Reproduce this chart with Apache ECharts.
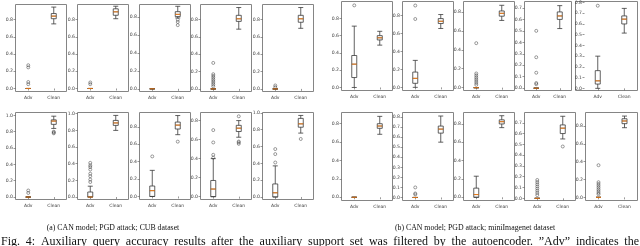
<!DOCTYPE html>
<html><head><meta charset="utf-8">
<script src="https://cdn.jsdelivr.net/npm/echarts@6/dist/echarts.min.js"></script>
<style>html,body{margin:0;padding:0;background:#fff}#c{width:640px;height:246px}</style>
</head><body><div id="c"></div>
<script>
// ---------------- DATA ----------------
const categories = ['Adv', 'Clean'];

// (a) CUB dataset: 10 panels, top row then bottom row. Box = [low whisker, Q1, median, Q3, high whisker]
const cubAdvBox = [
  [0,0,0,0,0], [0,0,0,0,0], [0,0,0,0,0], [0,0,0,0,0], [0,0,0,0,0],
  [0,0,0,0,0], [0,0,0,0.06,0.13], [0,0,0.067,0.12,0.30], [0,0,0.08,0.17,0.40], [0,0,0.05,0.155,0.37]
];
const cubAdvOutliers = [
  [0.27,0.245,0.075,0.05],
  [0.07,0.05],
  [],
  [0.30,0.17,0.15,0.13,0.11,0.09,0.07,0.05,0.03],
  [0.04,0.02],
  [0.08,0.05],
  [0.41,0.38,0.36,0.33,0.28,0.25,0.21,0.18],
  [0.46],
  [0.70,0.57,0.44,0.41],
  [0.57,0.51,0.41]
];
const cubCleanBox = [
  [0.75,0.81,0.84,0.87,0.945],
  [0.81,0.85,0.89,0.925,0.955],
  [0.79,0.805,0.83,0.86,0.92],
  [0.69,0.78,0.81,0.85,0.94],
  [0.70,0.77,0.81,0.85,0.94],
  [0.84,0.89,0.93,0.945,0.99],
  [0.80,0.86,0.89,0.92,0.98],
  [0.71,0.775,0.82,0.855,0.93],
  [0.625,0.685,0.72,0.75,0.80],
  [0.76,0.83,0.87,0.935,0.97]
];
const cubCleanOutliers = [
  [], [], [0.77,0.745,0.71], [], [],
  [0.80,0.79,0.78], [], [0.63], [0.845,0.58,0.57,0.555], [0.69]
];
const cubYRange = [
  [-0.035,0.975], [-0.035,0.975], [-0.03,0.94], [-0.03,0.975], [-0.03,0.975],
  [-0.03,1.035], [-0.03,1.015], [-0.035,0.965], [-0.03,0.885], [-0.03,1.005]
];
const cubYTicks = [
  [0,0.2,0.4,0.6,0.8], [0,0.2,0.4,0.6,0.8], [0,0.2,0.4,0.6,0.8], [0,0.2,0.4,0.6,0.8], [0,0.2,0.4,0.6,0.8],
  [0,0.2,0.4,0.6,0.8,1.0], [0,0.2,0.4,0.6,0.8,1.0], [0,0.2,0.4,0.6,0.8], [0,0.2,0.4,0.6,0.8], [0,0.2,0.4,0.6,0.8,1.0]
];

// (b) miniImagenet dataset
const miniAdvBox = [
  [0,0.115,0.27,0.37,0.71],
  [0,0.045,0.10,0.17,0.30],
  [0,0,0,0,0],
  [0,0,0,0,0],
  [0,0.04,0.07,0.165,0.30],
  [0,0,0,0,0],
  [0,0,0,0,0],
  [0,0,0.03,0.10,0.23],
  [0,0,0,0,0],
  [0,0,0,0,0]
];
const miniAdvOutliers = [
  [0.95],
  [0.91,0.76],
  [0.47,0.15,0.13,0.11,0.09,0.07,0.05,0.03],
  [0.50,0.27,0.135,0.045,0.035],
  [0.77],
  [],
  [0.10,0.04,0.03],
  [],
  [0.17,0.15,0.13,0.11,0.09,0.07,0.05,0.03],
  [0.36,0.17,0.15,0.13,0.11,0.09,0.07,0.05,0.035]
];
const miniCleanBox = [
  [0.49,0.55,0.575,0.60,0.65],
  [0.655,0.71,0.735,0.765,0.81],
  [0.71,0.755,0.785,0.81,0.87],
  [0.52,0.60,0.63,0.665,0.72],
  [0.515,0.60,0.645,0.675,0.745],
  [0.685,0.75,0.775,0.80,0.88],
  [0.55,0.64,0.68,0.71,0.81],
  [0.76,0.80,0.825,0.845,0.89],
  [0.55,0.60,0.65,0.68,0.76],
  [0.78,0.825,0.855,0.88,0.91]
];
const miniCleanOutliers = [[],[],[],[],[],[],[],[],[0.48],[]];
const miniYRange = [
  [-0.035,0.995], [-0.035,0.955], [-0.03,0.91], [-0.02,0.756], [-0.02,0.805],
  [-0.035,0.922], [-0.03,0.845], [-0.035,0.925], [-0.02,0.795], [-0.035,0.95]
];
const tenth8 = [0,0.1,0.2,0.3,0.4,0.5,0.6,0.7,0.8];
const tenth7 = [0,0.1,0.2,0.3,0.4,0.5,0.6,0.7];
const miniYTicks = [
  [0,0.2,0.4,0.6,0.8], [0,0.2,0.4,0.6,0.8], [0,0.2,0.4,0.6,0.8], tenth7, tenth8,
  [0,0.2,0.4,0.6,0.8], tenth8, [0,0.2,0.4,0.6,0.8], tenth7, [0,0.2,0.4,0.6,0.8]
];

const captionA = '(a) CAN model; PGD attack; CUB dataset';
const captionB = '(b) CAN model; PGD attack; miniImagenet dataset';
const figCaption = 'Fig. 4: Auxiliary query accuracy results after the auxiliary support set was filtered by the autoencoder. \u201DAdv\u201D indicates the';

// ---------------- LAYOUT ----------------
function rowLayout(lefts, widths, top, height) {
  return lefts.map((l, i) => [l, top, widths[i], height]);
}
const cubLayout = rowLayout([15.5,77.5,139.5,200.5,262.5],[51,51,51,51,51],4.5,87)
  .concat(rowLayout([15.5,77.5,139.5,200.5,262.5],[51,51,51,51,51],112.5,87));
const miniLayout = rowLayout([341.5,402.5,463.5,524.5,584.5],[51,51,51,47,53],1.5,89)
  .concat(rowLayout([341.5,402.5,463.5,524.5,585.5],[51,51,51,51,52],112.5,88));

const FRAME = '#858585', INK = '#3a3a3a', TXT = '#444';
const groups = [
  {advBox: cubAdvBox, advOut: cubAdvOutliers, cleanBox: cubCleanBox, cleanOut: cubCleanOutliers, ranges: cubYRange, ticks: cubYTicks, layout: cubLayout},
  {advBox: miniAdvBox, advOut: miniAdvOutliers, cleanBox: miniCleanBox, cleanOut: miniCleanOutliers, ranges: miniYRange, ticks: miniYTicks, layout: miniLayout}
];

const grid = [], xAxis = [], yAxis = [], series = [], graphic = [];
let k = 0;
groups.forEach((g, gi) => {
  for (let i = 0; i < 10; i++) {
    const L = g.layout[i];
    const special = (gi === 1 && i === 4); // wider frame containing labels
    grid.push({left: L[0], top: L[1], width: L[2], height: L[3], show: true,
      borderColor: FRAME, borderWidth: special ? 0 : 1, backgroundColor: 'transparent'});
    if (special) {
      graphic.push({type: 'rect', shape: {x: 575.5, y: L[1], width: L[0] + L[2] - 575.5, height: L[3]},
        style: {fill: 'none', stroke: FRAME, lineWidth: 1}, silent: true});
    }
    xAxis.push({type: 'category', gridIndex: k, data: categories, boundaryGap: true,
      axisLine: {show: false},
      axisTick: {show: true, alignWithLabel: true, length: 2, lineStyle: {color: '#555', width: 0.6}},
      axisLabel: {fontSize: 4.5, color: TXT, margin: 3.5, fontFamily: 'DejaVu Sans'},
      splitLine: {show: false}});
    yAxis.push({type: 'value', gridIndex: k, min: g.ranges[i][0], max: g.ranges[i][1],
      axisLine: {show: false}, splitLine: {show: false},
      axisTick: {show: true, length: 2, customValues: g.ticks[i], lineStyle: {color: '#555', width: 0.6}},
      axisLabel: {customValues: g.ticks[i], formatter: v => Number(v).toFixed(1), fontSize: 4.6,
        color: TXT, margin: 2.5, fontFamily: 'DejaVu Sans'}});
    series.push({type: 'boxplot', xAxisIndex: k, yAxisIndex: k, boxWidth: [5, 5], silent: true,
      itemStyle: {color: '#fff', borderColor: INK, borderWidth: 0.8},
      data: [g.advBox[i], g.cleanBox[i]], z: 2});
    series.push({type: 'scatter', xAxisIndex: k, yAxisIndex: k, symbol: 'rect', symbolSize: [5, 1.1], silent: true,
      itemStyle: {color: '#ff7f0e'}, data: [[0, g.advBox[i][2]], [1, g.cleanBox[i][2]]], z: 5});
    const out = g.advOut[i].map(v => [0, v]).concat(g.cleanOut[i].map(v => [1, v]));
    series.push({type: 'scatter', xAxisIndex: k, yAxisIndex: k, symbol: 'circle', symbolSize: 3, silent: true,
      itemStyle: {color: 'rgba(255,255,255,0)', borderColor: '#333', borderWidth: 0.6}, data: out, z: 4});
    k++;
  }
});

// captions
const capFont = '7.8px "Liberation Serif"';
graphic.push({type: 'text', x: 113, y: 228, silent: true,
  style: {text: captionA, font: capFont, fill: '#111', align: 'center', verticalAlign: 'middle', textAlign: 'center', textVerticalAlign: 'middle'}});
graphic.push({type: 'text', x: 475, y: 228, silent: true,
  style: {text: captionB, font: capFont, fill: '#111', align: 'center', verticalAlign: 'middle', textAlign: 'center', textVerticalAlign: 'middle'}});

// justified figure caption
const figFont = '12px "Liberation Serif"';
const ctx = document.createElement('canvas').getContext('2d');
ctx.font = figFont;
const words = figCaption.split(' ');
const widths = words.map(w => ctx.measureText(w).width);
const total = widths.reduce((a, b) => a + b, 0);
const x0 = 1, x1 = 639;
const gap = (x1 - x0 - total) / (words.length - 1);
let cx = x0;
words.forEach((w, i) => {
  graphic.push({type: 'text', x: cx, y: 241.5, silent: true,
    style: {text: w, font: figFont, fill: '#111', align: 'left', verticalAlign: 'middle', textAlign: 'left', textVerticalAlign: 'middle'}});
  cx += widths[i] + gap;
});

const chart = echarts.init(document.getElementById('c'), null, {renderer: 'canvas', width: 640, height: 246});
chart.setOption({animation: false, backgroundColor: '#fff', grid, xAxis, yAxis, series, graphic});
</script>
</body></html>
